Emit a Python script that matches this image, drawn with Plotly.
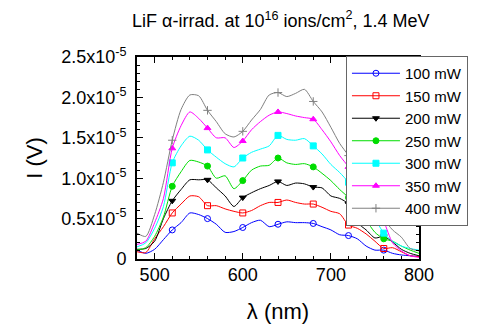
import plotly.graph_objects as go

wavelength = [480, 490, 500, 510, 520, 530, 540, 550, 560, 570, 580, 590, 600,
              610, 620, 630, 640, 650, 660, 670, 680, 690, 700, 710, 720, 730,
              740, 750, 760, 770, 780, 790, 800]

p100 = [0.11, 0.07, 0.12, 0.24, 0.36, 0.45, 0.57, 0.55, 0.50, 0.43, 0.33, 0.34, 0.39,
        0.45, 0.48, 0.40, 0.43, 0.46, 0.45, 0.45, 0.44, 0.40, 0.36, 0.30, 0.29, 0.25,
        0.16, 0.11, 0.11, 0.07, 0.05, 0.04, 0.03]
p150 = [0.09, 0.08, 0.25, 0.40, 0.57, 0.68, 0.78, 0.77, 0.66, 0.66, 0.62, 0.59, 0.57,
        0.60, 0.66, 0.70, 0.70, 0.73, 0.70, 0.68, 0.68, 0.64, 0.59, 0.56, 0.42, 0.38,
        0.31, 0.22, 0.13, 0.14, 0.09, 0.04, 0.03]
p200 = [0.12, 0.13, 0.22, 0.50, 0.72, 0.86, 0.98, 0.98, 0.98, 0.88, 0.78, 0.65, 0.76,
        0.82, 0.87, 0.91, 0.96, 0.91, 0.94, 0.93, 0.89, 0.88, 0.78, 0.75, 0.68, 0.45,
        0.36, 0.26, 0.28, 0.21, 0.12, 0.07, 0.04]
p250 = [0.11, 0.14, 0.28, 0.52, 0.90, 1.08, 1.22, 1.20, 1.15, 1.00, 1.03, 0.87, 0.97,
        1.10, 1.15, 1.16, 1.25, 1.19, 1.17, 1.18, 1.14, 1.06, 0.97, 0.86, 0.76, 0.62,
        0.48, 0.33, 0.25, 0.22, 0.16, 0.11, 0.07]
p300 = [0.15, 0.20, 0.38, 0.65, 1.19, 1.40, 1.52, 1.47, 1.35, 1.26, 1.18, 1.14, 1.25,
        1.32, 1.36, 1.40, 1.53, 1.48, 1.47, 1.49, 1.40, 1.30, 1.17, 1.07, 0.95, 0.80,
        0.65, 0.50, 0.32, 0.22, 0.16, 0.13, 0.11]
p350 = [0.18, 0.22, 0.45, 0.75, 1.37, 1.65, 1.82, 1.74, 1.62, 1.50, 1.50, 1.38, 1.46,
        1.60, 1.70, 1.78, 1.82, 1.80, 1.77, 1.75, 1.73, 1.60, 1.45, 1.28, 1.14, 0.95,
        0.78, 0.60, 0.46, 0.20, 0.10, 0.04, 0.02]
p400 = [0.32, 0.28, 0.55, 0.95, 1.47, 1.85, 2.03, 2.02, 1.84, 1.70, 1.55, 1.51, 1.58,
        1.72, 1.85, 2.03, 2.06, 2.01, 2.05, 2.10, 1.95, 1.82, 1.63, 1.43, 1.28, 1.10,
        0.92, 0.72, 0.50, 0.36, 0.27, 0.13, 0.10]

series_names = ["100 mW", "150 mW", "200 mW", "250 mW", "300 mW", "350 mW", "400 mW"]
series_values = [p100, p150, p200, p250, p300, p350, p400]
colors = ["#0000ff", "#ff0000", "#000000", "#00dd00", "#00ffff", "#ff00ff", "#808080"]
symbols = ["circle-open", "square-open", "triangle-down", "circle", "square",
           "triangle-up", "cross-thin-open"]
marker_lambdas = [520, 560, 600, 640, 680, 720, 760]

y_tickvals = [0, 0.5e-5, 1.0e-5, 1.5e-5, 2.0e-5, 2.5e-5]
y_ticktext = ["0", "0.5x10<sup>-5</sup>", "1.0x10<sup>-5</sup>", "1.5x10<sup>-5</sup>",
              "2.0x10<sup>-5</sup>", "2.5x10<sup>-5</sup>"]
x_tickvals = [500, 600, 700, 800]

scale = 1e-5
fig = go.Figure()
for name, vals, col, sym in zip(series_names, series_values, colors, symbols):
    y = [v * scale for v in vals]
    fig.add_trace(go.Scatter(x=wavelength, y=y, mode="lines", showlegend=False,
                             line=dict(color=col, width=1, shape="spline", smoothing=0.7),
                             hoverinfo="skip"))
    mx = [l for l in wavelength if l in marker_lambdas]
    my = [yy for l, yy in zip(wavelength, y) if l in marker_lambdas]
    msize = 6
    fig.add_trace(go.Scatter(x=mx, y=my, mode="markers", showlegend=False,
                             marker=dict(symbol=sym, color=col, size=msize,
                                         line=dict(color=col, width=1))))
    fig.add_trace(go.Scatter(x=[None], y=[None], mode="lines+markers", name=name,
                             line=dict(color=col, width=1),
                             marker=dict(symbol=sym, color=col, size=msize,
                                         line=dict(color=col, width=1))))

font_family = "Liberation Sans, Arial, sans-serif"
# page body has an 8px default margin: figure is 470x319 so it fits the 478x327 window
fig.update_layout(
    width=470, height=319,
    margin=dict(l=129, r=59, t=49, b=68, autoexpand=False),
    paper_bgcolor="white", plot_bgcolor="white",
    font=dict(family=font_family, size=18, color="black"),
    title=dict(text="LiF \u03b1-irrad. at 10<sup>16</sup> ions/cm<sup>2</sup>, 1.4 MeV",
               x=0.51, xref="paper", xanchor="center", y=0.96, yanchor="middle",
               font=dict(size=18)),
    showlegend=True,
    legend=dict(x=0.741, y=1.005, xanchor="left", yanchor="top",
                bgcolor="white", bordercolor="#666666", borderwidth=1,
                font=dict(size=15), tracegroupgap=0, maxheight=300,
                itemwidth=48),
    xaxis=dict(range=[480, 800], tickmode="array", tickvals=x_tickvals,
               ticks="inside", ticklen=6, tickwidth=1, tickcolor="black",
               ticklabelstandoff=-2,
               showline=True, linewidth=2, linecolor="black", mirror="ticks",
               showgrid=False, zeroline=False,
               minor=dict(dtick=20, tick0=480, ticks="inside", ticklen=3,
                          tickcolor="black", showgrid=False),
               title=dict(text="\u03bb (nm)", standoff=20)),
    yaxis=dict(range=[0, 2.5e-5], tickmode="array", tickvals=y_tickvals,
               ticktext=y_ticktext,
               ticks="inside", ticklen=6, tickwidth=1, tickcolor="black",
               ticklabelstandoff=5,
               showline=True, linewidth=2, linecolor="black", mirror="ticks",
               showgrid=False, zeroline=False,
               minor=dict(dtick=0.1e-5, tick0=0, ticks="inside", ticklen=3,
                          tickcolor="black", showgrid=False),
               title=dict(text="I (V)", standoff=12)),
)

fig.write_html("out.html")
